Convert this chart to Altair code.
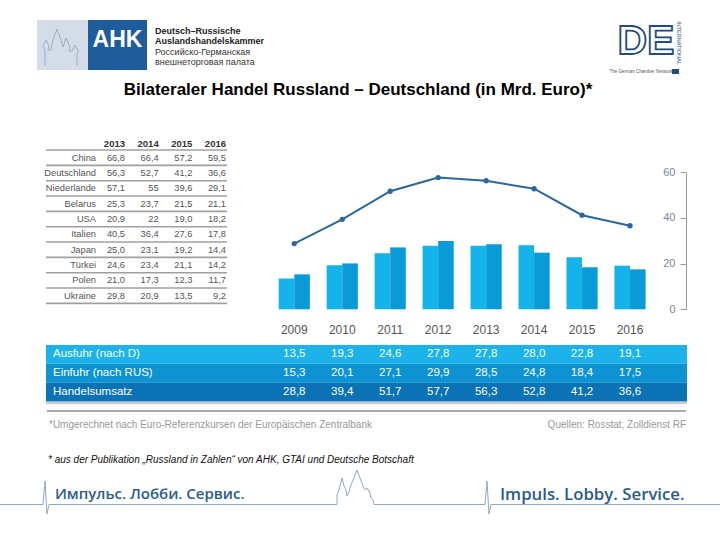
import altair as alt
import pandas as pd

# ---------------- data ----------------
years = ["2009", "2010", "2011", "2012", "2013", "2014", "2015", "2016"]
ausfuhr = [13.5, 19.3, 24.6, 27.8, 27.8, 28.0, 22.8, 19.1]
einfuhr = [15.3, 20.1, 27.1, 29.9, 28.5, 24.8, 18.4, 17.5]
umsatz = [28.8, 39.4, 51.7, 57.7, 56.3, 52.8, 41.2, 36.6]
row_names = ["Ausfuhr (nach D)", "Einfuhr (nach RUS)", "Handelsumsatz"]

countries = ["China", "Deutschland", "Niederlande", "Belarus", "USA",
             "Italien", "Japan", "Türkei", "Polen", "Ukraine"]
table_years = ["2013", "2014", "2015", "2016"]
c2013 = [66.8, 56.3, 57.1, 25.3, 20.9, 40.5, 25.0, 24.6, 21.0, 29.8]
c2014 = [66.4, 52.7, 55, 23.7, 22, 36.4, 23.1, 23.4, 17.3, 20.9]
c2015 = [57.2, 41.2, 39.6, 21.5, 19.0, 27.6, 19.2, 21.1, 12.3, 13.5]
c2016 = [59.5, 36.6, 29.1, 21.1, 18.2, 17.8, 14.4, 14.2, 11.7, 9.2]
y_ticks = [0, 20, 40, 60]

FONT = "Liberation Sans"
NARROW = "Liberation Sans Narrow, Arial Narrow, Liberation Sans, sans-serif"

def de(v):
    return str(v).replace(".", ",")

# ---------------- tables ----------------
bars_df = pd.DataFrame(
    [{"year": y, "series": "Ausfuhr", "value": a} for y, a in zip(years, ausfuhr)]
    + [{"year": y, "series": "Einfuhr", "value": e} for y, e in zip(years, einfuhr)]
)
line_df = pd.DataFrame({"year": years, "umsatz": umsatz})
bottom_df = pd.DataFrame(
    [{"row": row_names[0], "year": y, "label": f"{v:.1f}".replace(".", ",")} for y, v in zip(years, ausfuhr)]
    + [{"row": row_names[1], "year": y, "label": f"{v:.1f}".replace(".", ",")} for y, v in zip(years, einfuhr)]
    + [{"row": row_names[2], "year": y, "label": f"{v:.1f}".replace(".", ",")} for y, v in zip(years, umsatz)]
)
rows_df = pd.DataFrame({"row": row_names})
ctab = []
for col, vals in zip(table_years, [c2013, c2014, c2015, c2016]):
    for c, v in zip(countries, vals):
        ctab.append({"country": c, "year": col, "label": de(v)})
ctab_df = pd.DataFrame(ctab)
cnames_df = pd.DataFrame({"country": countries})
theads_df = pd.DataFrame({"year": table_years})
years_df = pd.DataFrame({"year": years})

one = pd.DataFrame({"a": [1]})

# ---------------- helpers for decoration ----------------
def T(text, x, y, size=10, color="#000", weight="normal", align="left",
      font=FONT, baseline="alphabetic", **kw):
    return alt.Chart(one).mark_text(
        text=text, fontSize=size, color=color, fontWeight=weight, align=align,
        baseline=baseline, font=font, **kw
    ).encode(x=alt.value(x), y=alt.value(y))

def R(x, x2, y, y2, color):
    return alt.Chart(one).mark_rect(color=color).encode(
        x=alt.value(x), x2=alt.value(x2), y=alt.value(y), y2=alt.value(y2))

def L(x, y, x2, y2, color, w=1.0):
    return alt.Chart(one).mark_rule(color=color, strokeWidth=w).encode(
        x=alt.value(x), y=alt.value(y), x2=alt.value(x2), y2=alt.value(y2))

def poly(pts, color, w=1.0):
    return [L(a[0], a[1], b[0], b[1], color, w) for a, b in zip(pts[:-1], pts[1:])]

layers = []

# ---------------- header logos ----------------
layers.append(R(37, 88, 20, 70, "#D4DDE7"))
layers.append(R(88, 147, 20, 70, "#1F5C9C"))
church_small = [(45, 66), (45, 50), (43, 46), (46, 40), (49, 46), (48, 50), (51, 50),
                (53, 40), (57, 29), (61, 40), (63, 47), (66, 38), (70, 47), (69, 51),
                (72, 51), (75, 45), (78, 51), (77, 55), (77, 66)]
layers += poly(church_small, "#9AAFC7", 1.0)
layers.append(T("AHK", 117.5, 47, size=23, color="white", weight="bold", align="center"))
layers.append(T("Deutsch–Russische", 155, 34, size=9, color="#222", weight="bold"))
layers.append(T("Auslandshandelskammer", 155, 44, size=9, color="#222", weight="bold"))
layers.append(T("Российско-Германская", 155, 54.5, size=9, color="#333"))
layers.append(T("внешнеторговая палата", 155, 65, size=9, color="#333"))

layers.append(alt.Chart(one).mark_text(
    text="DE", fontSize=41, font=FONT, fontWeight="bold", fill="white",
    stroke="#1F4E79", strokeWidth=1.8, align="center", baseline="alphabetic"
).encode(x=alt.value(646), y=alt.value(54)))
layers.append(T("INTERNATIONAL", 679, 43, size=5.5, color="#1F4E79", align="center",
                baseline="middle", angle=90))
layers.append(T("The German Chamber Network", 641, 73, size=4.5, color="#555", align="center"))
layers.append(R(672, 679, 69, 74, "#1F4E79"))

# ---------------- title ----------------
layers.append(T("Bilateraler Handel Russland – Deutschland (in Mrd. Euro)*", 358, 95,
                size=17, color="#000", weight="bold", align="center"))

# ---------------- country table ----------------
CY = alt.Scale(type="point", domain=countries, range=[157.7, 295.7], padding=0)
CYL = alt.Scale(type="point", domain=countries, range=[165.4, 303.4], padding=0)
CX = alt.Scale(type="point", domain=table_years, range=[125, 226], padding=0)

layers.append(L(46, 150, 227, 150, "#A0A0A0", 1.6))
layers.append(alt.Chart(cnames_df).mark_rule(color="#A0A0A0", strokeWidth=1.6).encode(
    y=alt.Y("country:N", scale=CYL, axis=None), x=alt.value(46), x2=alt.value(227)))
layers.append(alt.Chart(theads_df).mark_text(
    align="right", baseline="middle", fontSize=9.5, fontWeight="bold", color="#333", font=FONT
).encode(x=alt.X("year:N", scale=CX, axis=None), y=alt.value(143.5), text="year:N"))
layers.append(alt.Chart(cnames_df).mark_text(
    align="right", baseline="middle", fontSize=9.3, color="#555", font=NARROW
).encode(y=alt.Y("country:N", scale=CY, axis=None), x=alt.value(96), text="country:N"))
layers.append(alt.Chart(ctab_df).mark_text(
    align="right", baseline="middle", fontSize=9.3, color="#555", font=NARROW
).encode(x=alt.X("year:N", scale=CX, axis=None),
         y=alt.Y("country:N", scale=CY, axis=None), text="label:N"))

# ---------------- main chart ----------------
XS = alt.Scale(domain=years, range=[270.3, 654], paddingInner=0.35, paddingOuter=0.175)
YS = alt.Scale(domain=[0, 60], range=[309.3, 172.3], nice=False, zero=True)

layers.append(alt.Chart(bars_df).mark_bar().encode(
    x=alt.X("year:N", scale=XS, axis=None),
    xOffset=alt.XOffset("series:N", scale=alt.Scale(domain=["Ausfuhr", "Einfuhr"])),
    y=alt.Y("value:Q", scale=YS, axis=alt.Axis(
        orient="left", offset=-686, values=y_ticks, grid=False, tickSize=6,
        domainColor="#9A9A9A", tickColor="#9A9A9A", labelColor="#7A8896",
        labelFontSize=11, labelFont=FONT, labelPadding=5, title=None)),
    color=alt.Color("series:N", scale=alt.Scale(domain=["Ausfuhr", "Einfuhr"],
                                                range=["#14B3E9", "#0A9AD7"]), legend=None),
))
layers.append(alt.Chart(line_df).mark_line(
    color="#2A679E", strokeWidth=2,
    point=alt.OverlayMarkDef(filled=True, size=28, color="#2A679E")
).encode(x=alt.X("year:N", scale=XS, axis=None),
         y=alt.Y("umsatz:Q", scale=YS, axis=None)))
layers.append(alt.Chart(years_df).mark_text(
    baseline="middle", fontSize=12, color="#555", font=FONT
).encode(x=alt.X("year:N", scale=XS, axis=None), y=alt.value(330), text="year:N"))

# ---------------- bottom data table ----------------
YR = alt.Scale(domain=row_names, range=[345, 401.5], paddingInner=0, paddingOuter=0)
layers.append(L(46, 403, 687, 403, "#C9C9C9", 2))
layers.append(alt.Chart(rows_df).mark_rect().encode(
    y=alt.Y("row:N", scale=YR, axis=None), x=alt.value(46), x2=alt.value(687),
    color=alt.Color("row:N", scale=alt.Scale(domain=row_names,
                                             range=["#1BB3EA", "#0D92D2", "#0B72B5"]), legend=None)))
layers.append(alt.Chart(rows_df).mark_text(
    align="left", baseline="middle", fontSize=11.5, color="white", font=NARROW
).encode(y=alt.Y("row:N", scale=YR, axis=None), x=alt.value(53), text="row:N"))
layers.append(alt.Chart(bottom_df).mark_text(
    align="center", baseline="middle", fontSize=11.5, color="white", font=NARROW
).encode(x=alt.X("year:N", scale=XS, axis=None),
         y=alt.Y("row:N", scale=YR, axis=None), text="label:N"))

# ---------------- footnotes ----------------
layers.append(L(47, 411, 686, 411, "#AAAAAA", 2))
layers.append(T("*Umgerechnet nach Euro-Referenzkursen der Europäischen Zentralbank", 49, 428,
                size=10, color="#999", font=NARROW))
layers.append(T("Quellen: Rosstat, Zolldienst RF", 686, 428, size=10, color="#999",
                align="right", font=NARROW))
layers.append(T("* aus der Publikation „Russland in Zahlen“ von AHK, GTAI und Deutsche Botschaft",
                48, 463, size=10, color="#111", fontStyle="italic"))

# ---------------- footer ----------------
FC = "#8FA7BF"
footer = [(0, 504.5), (43, 504.5), (45, 481), (47, 514), (49, 504.5), (337, 504.5),
          (337, 495), (339, 490), (340, 486), (342, 478), (344, 486), (346, 490),
          (347, 496), (349, 492), (351, 485), (354, 478), (357, 470), (360, 478),
          (363, 486), (365, 490), (367, 488), (370, 493), (371, 498), (373, 500),
          (374, 504.5), (485, 504.5), (487, 481), (489, 514), (491, 504.5), (720, 504.5)]
layers += poly(footer, FC, 1.0)
layers.append(T("Импульс. Лобби. Сервис.", 55, 499, size=15, color="#2B5B8A",
                weight=600, font="Open Sans"))
layers.append(T("Impuls. Lobby. Service.", 500, 500, size=16.8, color="#2B5B8A",
                weight=600, font="Open Sans"))

chart = alt.layer(*layers).resolve_scale(
    x="independent", y="independent", color="independent"
).properties(
    width=720, height=540, padding=0, autosize="none", background="white"
).configure_view(stroke=None)

chart.save("out.html", embed_options={"renderer": "svg", "actions": False})
